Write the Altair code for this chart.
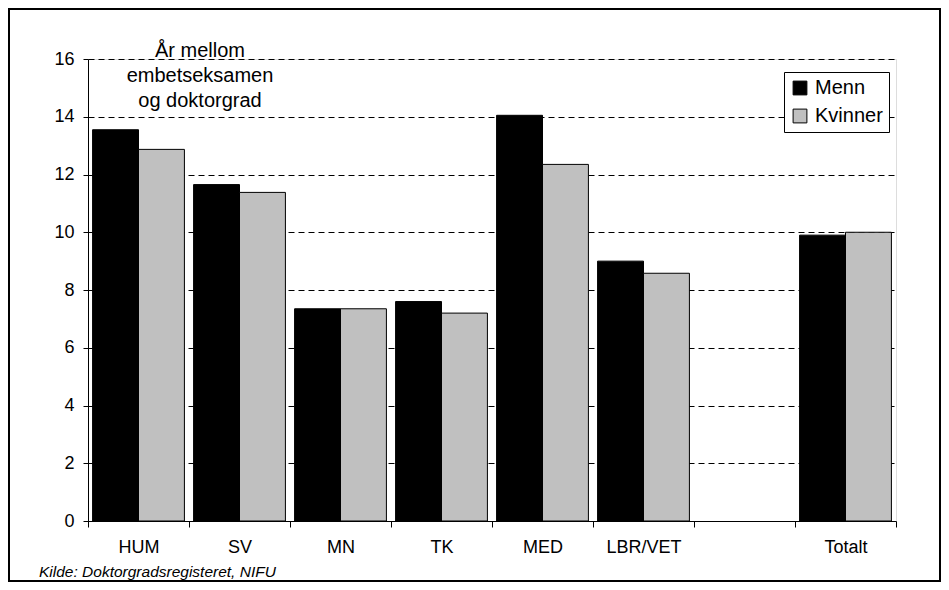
import altair as alt
import pandas as pd

categories = ["HUM", "SV", "MN", "TK", "MED", "LBR/VET", " ", "Totalt"]
data_categories = ["HUM", "SV", "MN", "TK", "MED", "LBR/VET", "Totalt"]
menn = [13.55, 11.65, 7.35, 7.6, 14.05, 9.0, 9.9]
kvinner = [12.87, 11.38, 7.35, 7.2, 12.35, 8.58, 10.0]
series = ["Menn", "Kvinner"]
colors = ["#000000", "#C0C0C0"]
yticks = [0, 2, 4, 6, 8, 10, 12, 14, 16]
annotation_lines = ["År mellom", "embetseksamen", "og doktorgrad"]
source_text = "Kilde: Doktorgradsregisteret, NIFU"

rows = []
for c, m, k in zip(data_categories, menn, kvinner):
    rows.append({"kategori": c, "kjønn": "Menn", "verdi": m})
    rows.append({"kategori": c, "kjønn": "Kvinner", "verdi": k})
df = pd.DataFrame(rows)

FONT = "Liberation Sans"
one = pd.DataFrame({"a": [0]})

border = alt.Chart(one).mark_rect(fill=None, fillOpacity=0, stroke="black", strokeWidth=2).encode(
    x=alt.value(-79), x2=alt.value(852), y=alt.value(-50), y2=alt.value(522)
)

bars = alt.Chart(df).mark_bar(stroke="black", strokeWidth=1).encode(
    x=alt.X("kategori:N", sort=categories,
            scale=alt.Scale(domain=categories, paddingInner=0, paddingOuter=0),
            axis=alt.Axis(title=None, labelAngle=0, tickBand="extent", tickSize=6,
                          labelPadding=11, labelFontSize=18, labelFont=FONT,
                          labelColor="black", domainColor="black", tickColor="black",
                          grid=False)),
    xOffset=alt.XOffset("kjønn:N", sort=series,
                        scale=alt.Scale(domain=series, paddingInner=0, paddingOuter=0.1)),
    y=alt.Y("verdi:Q", scale=alt.Scale(domain=[0, 16], nice=False),
            axis=alt.Axis(title=None, values=yticks, tickSize=5, labelPadding=9,
                          labelFontSize=18, labelFont=FONT, labelColor="black",
                          domainColor="black", tickColor="black",
                          grid=True, gridDash=[6, 4], gridColor="black", gridOpacity=1)),
    color=alt.Color("kjønn:N", sort=series,
                    scale=alt.Scale(domain=series, range=colors),
                    legend=alt.Legend(title=None, orient="none", legendX=696, legendY=13,
                                      strokeColor="black", fillColor="white", padding=6,
                                      symbolType="square", symbolSize=190,
                                      symbolStrokeColor="black", symbolStrokeWidth=1,
                                      labelFontSize=20, labelFont=FONT, labelColor="black",
                                      rowPadding=8, labelOffset=5)),
)

annotation = alt.Chart(one).mark_text(
    text=annotation_lines, fontSize=20, font=FONT, color="black",
    align="center", baseline="middle", lineHeight=25
).encode(x=alt.value(112), y=alt.value(-8))

source = alt.Chart(one).mark_text(
    text=source_text, fontSize=15.5, font=FONT, fontStyle="italic", color="black",
    align="left", baseline="middle"
).encode(x=alt.value(-49), y=alt.value(513))

chart = alt.layer(border, bars, annotation, source).properties(
    width=808, height=462,
    autosize=alt.AutoSizeParams(type="none"),
    padding={"left": 80, "top": 51, "right": 45, "bottom": 61},
).configure_view(stroke="black", strokeWidth=1).configure(background="white")

chart.save("out.html", embed_options={"renderer": "svg", "actions": False})
